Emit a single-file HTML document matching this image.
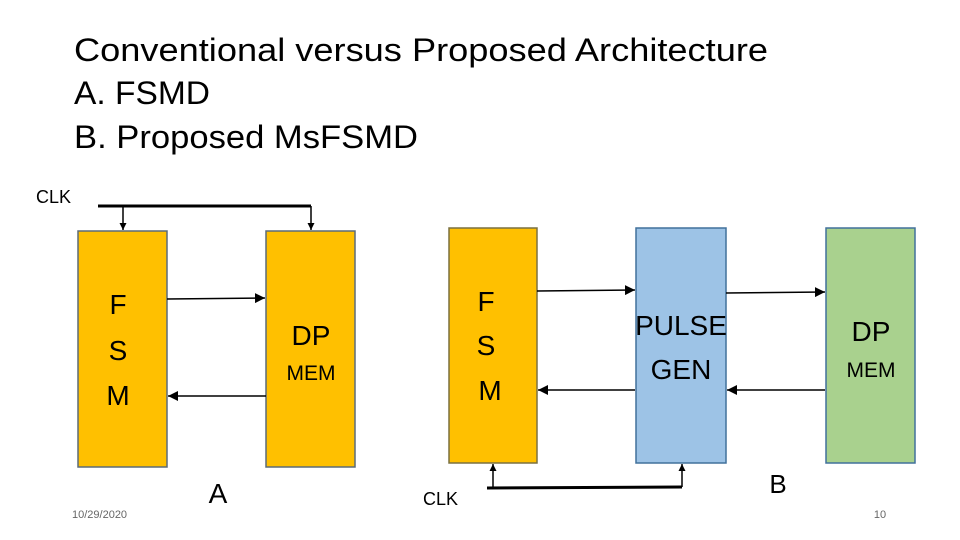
<!DOCTYPE html>
<html><head><meta charset="utf-8"><style>body{margin:0;background:#fff}svg{display:block}</style></head>
<body>
<svg width="960" height="540" viewBox="0 0 960 540" xmlns="http://www.w3.org/2000/svg" font-family="Liberation Sans, sans-serif">
<defs><marker id="a" viewBox="0 0 10 10" refX="10" refY="5" markerWidth="7" markerHeight="7" orient="auto" markerUnits="userSpaceOnUse"><path d="M0,0L10,5L0,10z" fill="#000"/></marker>
<marker id="b" viewBox="0 0 10 10" refX="10" refY="5" markerWidth="10" markerHeight="10" orient="auto" markerUnits="userSpaceOnUse"><path d="M0,0L10,5L0,10z" fill="#000"/></marker></defs>
<g font-size="32" fill="#000">
<text x="74" y="61" textLength="694" lengthAdjust="spacingAndGlyphs">Conventional versus Proposed Architecture</text>
<text x="74" y="104" textLength="136" lengthAdjust="spacingAndGlyphs">A. FSMD</text>
<text x="74" y="148" textLength="344" lengthAdjust="spacingAndGlyphs">B. Proposed MsFSMD</text>
</g>
<text x="36" y="203" font-size="18">CLK</text>
<line x1="98" y1="206" x2="311" y2="206" stroke="#000" stroke-width="3"/>
<line x1="123" y1="206" x2="123" y2="230" stroke="#000" stroke-width="1.5" marker-end="url(#a)"/>
<line x1="311" y1="206" x2="311" y2="230" stroke="#000" stroke-width="1.5" marker-end="url(#a)"/>
<rect x="78" y="231" width="89" height="236" fill="#FFC000" stroke="#5b6b78" stroke-width="1.5"/>
<rect x="266" y="231" width="89" height="236" fill="#FFC000" stroke="#5b6b78" stroke-width="1.5"/>
<g font-size="28" text-anchor="middle"><text x="118" y="314">F</text><text x="118" y="360">S</text><text x="118" y="405">M</text>
<text x="311" y="345">DP</text></g>
<text x="311" y="380" font-size="21" text-anchor="middle">MEM</text>
<line x1="167" y1="299" x2="265" y2="298" stroke="#000" stroke-width="1.5" marker-end="url(#b)"/>
<line x1="266" y1="396" x2="168" y2="396" stroke="#000" stroke-width="1.5" marker-end="url(#b)"/>
<text x="218" y="503" font-size="28" text-anchor="middle">A</text>
<rect x="449" y="228" width="88" height="235" fill="#FFC000" stroke="#7a7040" stroke-width="1.5"/>
<rect x="636" y="228" width="90" height="235" fill="#9DC3E6" stroke="#41719C" stroke-width="1.5"/>
<rect x="826" y="228" width="89" height="235" fill="#A9D18E" stroke="#41719C" stroke-width="1.5"/>
<g font-size="28" text-anchor="middle"><text x="486" y="311">F</text><text x="486" y="355">S</text><text x="490" y="400">M</text>
<text x="681" y="335">PULSE</text><text x="681" y="379">GEN</text><text x="871" y="341">DP</text></g>
<text x="871" y="377" font-size="21" text-anchor="middle">MEM</text>
<line x1="537" y1="291" x2="635" y2="290" stroke="#000" stroke-width="1.5" marker-end="url(#b)"/>
<line x1="726" y1="293" x2="825" y2="292" stroke="#000" stroke-width="1.5" marker-end="url(#b)"/>
<line x1="635" y1="390" x2="538" y2="390" stroke="#000" stroke-width="1.5" marker-end="url(#b)"/>
<line x1="825" y1="390" x2="727" y2="390" stroke="#000" stroke-width="1.5" marker-end="url(#b)"/>
<line x1="487" y1="488" x2="682" y2="487" stroke="#000" stroke-width="3"/>
<line x1="493" y1="488" x2="493" y2="464" stroke="#000" stroke-width="1.5" marker-end="url(#a)"/>
<line x1="682" y1="487" x2="682" y2="464" stroke="#000" stroke-width="1.5" marker-end="url(#a)"/>
<text x="423" y="505" font-size="18">CLK</text>
<text x="778" y="493" font-size="26" text-anchor="middle">B</text>
<text x="72" y="518" font-size="11" fill="#666">10/29/2020</text>
<text x="880" y="518" font-size="11" fill="#666" text-anchor="middle">10</text>
</svg>
</body></html>
